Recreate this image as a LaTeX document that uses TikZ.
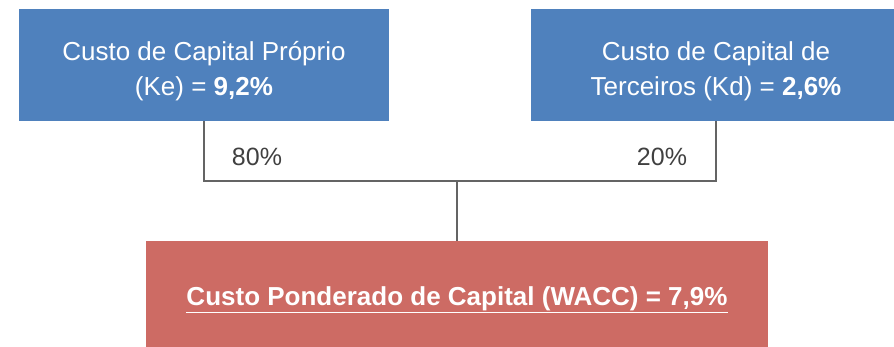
\documentclass[tikz,border=0pt]{standalone}
\usepackage{fontspec}
\setmainfont{Liberation Sans}
\usepackage{tikz}
\usetikzlibrary{positioning,calc}
\usepackage{xcolor}
\definecolor{wbblue}{RGB}{79,129,189}
\definecolor{wbred}{RGB}{205,107,100}
\definecolor{wbgray}{RGB}{100,100,100}
\definecolor{wbtext}{RGB}{64,64,64}
\tikzstyle{costbox} = [rectangle, minimum width=370pt, minimum height=112pt, inner sep=0pt, text centered, align=center, fill=wbblue, text=white, font=\fontsize{26}{35}\selectfont]
\tikzstyle{waccbox} = [rectangle, minimum width=622pt, minimum height=106pt, inner sep=0pt, text centered, fill=wbred, text=white, font=\fontsize{26}{35}\selectfont\bfseries]
\tikzstyle{weight} = [inner sep=0pt, text=wbtext, font=\fontsize{25}{34}\selectfont]
\tikzstyle{link} = [line width=2pt, color=wbgray]

\begin{document}
\begin{tikzpicture}[x=1pt, y=-1pt]
\useasboundingbox (0,0) rectangle (894,347);

% Source boxes
\node[costbox] (ke) at (204,65) {\rule{0pt}{31pt}Custo de Capital Próprio\\(Ke) = \textbf{9,2\%}};
\node[costbox] (kd) at (716,65) {\rule{0pt}{31pt}Custo de Capital de\\Terceiros (Kd) = \textbf{2,6\%}};

% Result box
\node[waccbox] (wacc) at (457,294) {\rule{0pt}{31pt}\underline{Custo Ponderado de Capital (WACC) = 7,9\%}};

% Weights
\node[weight] (wke) at (257,157) {80\%};
\node[weight] (wkd) at (662,157) {20\%};

% Connections
\coordinate (junc) at (457,181);
\draw[link] (ke.south) |- (junc) -| (kd.south);
\draw[link] (junc) -- (wacc.north);
\end{tikzpicture}
\end{document}
